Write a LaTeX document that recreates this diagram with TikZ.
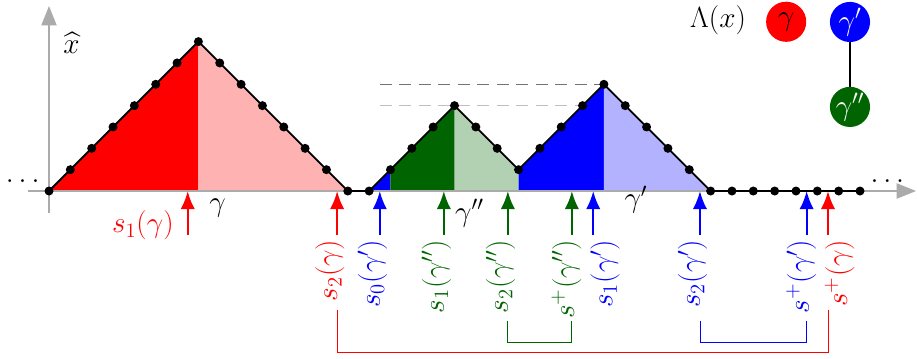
\RequirePackage{fix-cm}
\documentclass[tikz,border=0pt]{standalone}
\usepackage{amsmath}
\usepackage{amssymb}
\usepackage{xcolor}
\usetikzlibrary{arrows.meta}
\definecolor{dkgreen}{RGB}{0,100,0}
\tikzset{
    axis/.style = {line width=1.5pt, draw=black!33, -{Triangle[length=13pt, width=10pt]}},
    walk/.style = {line width=1.2pt, draw=black, line join=round},
    level/.style = {line width=0.8pt, dash pattern=on 8pt off 5pt},
    pin/.style = {line width=1.5pt, -{Latex[length=12pt, width=9.5pt]}},
    lab/.style = {rotate=90, anchor=base east, inner sep=3pt},
    brack/.style = {line width=0.6pt},
    bubble/.style = {circle, minimum size=0.94cm, inner sep=0pt}
}
\begin{document}
\begin{tikzpicture}[x=0.5cm, y=0.5cm, font=\fontsize{19.5}{23}\selectfont]
\useasboundingbox (-2.296,-7.83) rectangle (40.67,8.95);

% shaded parts of the excursions
\fill [red] (0,0) -- (7,7) -- (7,0) -- cycle;
\fill [red!30] (7,0) -- (7,7) -- (14,0) -- cycle;
\fill [blue] (15,0) -- (16,1) -- (16,0) -- cycle;
\fill [dkgreen] (16,0) -- (16,1) -- (19,4) -- (19,0) -- cycle;
\fill [dkgreen!30] (19,0) -- (19,4) -- (22,1) -- (22,0) -- cycle;
\fill [blue] (22,0) -- (22,1) -- (26,5) -- (26,0) -- cycle;
\fill [blue!30] (26,0) -- (26,5) -- (31,0) -- cycle;

% axes
\draw [axis] (-0.98,0) -- (40.63,0);
\draw [axis] (0,-1.03) -- (0,8.67);
\node (xhat) at (1.05,6.95) {$\widehat{x}$};
\node (ldots) [anchor=base] at (-1.23,0.4) {$\ldots$};
\node (rdots) [anchor=base] at (39.28,0.4) {$\ldots$};

% heights
\draw [level, black!55] (15.5,5) -- (26,5);
\draw [level, black!25] (15.5,4) -- (25,4);

% the walk
\draw [walk] (0,0) -- (7,7) -- (14,0) -- (15,0) -- (19,4) -- (22,1) -- (26,5) -- (31,0) -- (38,0);
\foreach \i in {0,...,7} \fill (\i,\i) circle (3pt);
\foreach \i in {8,...,14} \fill (\i,14-\i) circle (3pt);
\foreach \i in {15,...,19} \fill (\i,\i-15) circle (3pt);
\foreach \i in {20,...,22} \fill (\i,23-\i) circle (3pt);
\foreach \i in {23,...,26} \fill (\i,\i-21) circle (3pt);
\foreach \i in {27,...,31} \fill (\i,31-\i) circle (3pt);
\foreach \i in {32,...,38} \fill (\i,0) circle (3pt);

\node (gam) at (7.9,-0.8) {$\gamma$};
\node (gampp) at (19.7,-1.03) {$\gamma''$};
\node (gamp) at (27.5,-0.4) {$\gamma'$};

% times on the axis
\coordinate (s1g) at (6.5,0);
\coordinate (s1gb) at (6.5,-2.06);
\coordinate (s2g) at (13.5,0);
\coordinate (s0gp) at (15.5,0);
\coordinate (s1gpp) at (18.5,0);
\coordinate (s2gpp) at (21.5,0);
\coordinate (spgpp) at (24.5,0);
\coordinate (s1gp) at (25.5,0);
\coordinate (s2gp) at (30.5,0);
\coordinate (spgp) at (35.5,0);
\coordinate (spg) at (36.5,0);

\node (ls1g) [text=red] at (4.4,-1.62) {$s_1(\gamma)$};
\node (ls2g) [lab, text=red] at (13.5,-2.06) {$s_2(\gamma)$};
\node (ls0gp) [lab, text=blue] at (15.5,-2.06) {$s_0(\gamma')$};
\node (ls1gpp) [lab, text=dkgreen] at (18.5,-2.06) {$s_1(\gamma'')$};
\node (ls2gpp) [lab, text=dkgreen] at (21.5,-2.06) {$s_2(\gamma'')$};
\node (lspgpp) [lab, text=dkgreen] at (24.6,-2.06) {$s^+(\gamma'')$};
\node (ls1gp) [lab, text=blue] at (26.4,-2.06) {$s_1(\gamma')$};
\node (ls2gp) [lab, text=blue] at (30.5,-2.06) {$s_2(\gamma')$};
\node (lspgp) [lab, text=blue] at (35.6,-2.06) {$s^+(\gamma')$};
\node (lspg) [lab, text=red] at (37.4,-2.06) {$s^+(\gamma)$};

\draw [pin, red] (s1gb) -- (s1g);
\draw [pin, red] (s2g |- ls2g.base east) -- (s2g);
\draw [pin, blue] (s0gp |- ls0gp.base east) -- (s0gp);
\draw [pin, dkgreen] (s1gpp |- ls1gpp.base east) -- (s1gpp);
\draw [pin, dkgreen] (s2gpp |- ls2gpp.base east) -- (s2gpp);
\draw [pin, dkgreen] (spgpp |- lspgpp.base east) -- (spgpp);
\draw [pin, blue] (s1gp |- ls1gp.base east) -- (s1gp);
\draw [pin, blue] (s2gp |- ls2gp.base east) -- (s2gp);
\draw [pin, blue] (spgp |- lspgp.base east) -- (spgp);
\draw [pin, red] (spg |- lspg.base east) -- (spg);

% brackets
\coordinate (redtop) at (0,-5.58);
\coordinate (redbot) at (0,-7.57);
\coordinate (othtop) at (0,-6.09);
\coordinate (othbot) at (0,-7.08);
\draw [brack, red] (s2g |- redtop) -- (s2g |- redbot) -- (spg |- redbot) -- (spg |- redtop);
\draw [brack, dkgreen] (s2gpp |- othtop) -- (s2gpp |- othbot) -- (spgpp |- othbot) -- (spgpp |- othtop);
\draw [brack, blue] (s2gp |- othtop) -- (s2gp |- othbot) -- (spgp |- othbot) -- (spgp |- othtop);

% legend
\node (lam) at (31.35,8.0) {$\Lambda(x)$};
\node (cg) [bubble, fill=red] at (34.54,7.93) {$\gamma$};
\node (cgp) [bubble, fill=blue, text=white] at (37.53,7.92) {$\gamma'$};
\node (cgpp) [bubble, fill=dkgreen, text=white] at (37.53,3.94) {$\gamma''$};
\draw [line width=1pt] (cgp) -- (cgpp);
\end{tikzpicture}
\end{document}
